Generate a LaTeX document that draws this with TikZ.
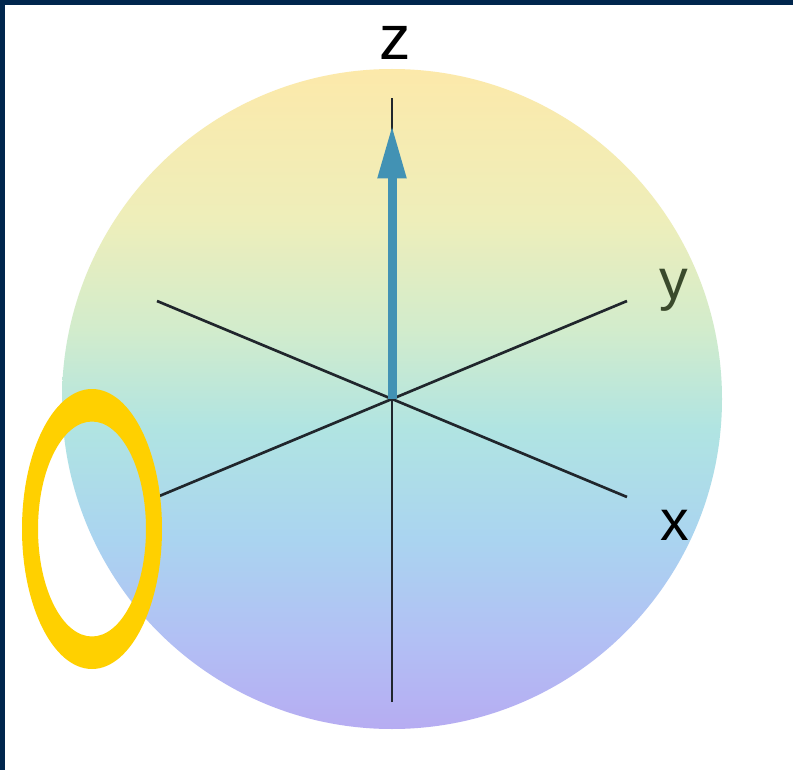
\documentclass[tikz,border=0pt]{standalone}
\usepackage{fontspec}
\setmainfont{Liberation Sans}
\usetikzlibrary{arrows.meta}
\definecolor{cnavy}{RGB}{0,38,77}
\definecolor{cjaune}{RGB}{255,208,0}
\definecolor{cfleche}{RGB}{66,146,180}
\definecolor{caxe}{RGB}{32,38,44}
\definecolor{cvert}{RGB}{58,74,44}
\definecolor{sph1}{RGB}{182,172,242}
\definecolor{sph2}{RGB}{178,192,244}
\definecolor{sph3}{RGB}{170,212,240}
\definecolor{sph4}{RGB}{176,228,226}
\definecolor{sph5}{RGB}{210,236,204}
\definecolor{sph6}{RGB}{238,238,186}
\definecolor{sph7}{RGB}{252,233,170}
\pgfdeclareverticalshading{sphere}{100bp}{color(0bp)=(sph1); color(25bp)=(sph1);
  color(31.8bp)=(sph2); color(39.4bp)=(sph3); color(47.7bp)=(sph4);
  color(55.3bp)=(sph5); color(63.6bp)=(sph6); color(75bp)=(sph7); color(100bp)=(sph7)}

\begin{document}
\begin{tikzpicture}[x=0.75pt, y=-0.75pt, >=Stealth,
  lettre/.style={inner sep=0pt, anchor=base, font=\fontsize{43}{46}\selectfont}]
\useasboundingbox (0,0) rectangle (793,770);
\fill[white] (0,0) rectangle (793,770);
\fill[cnavy] (0,0) rectangle (793,5);
\fill[cnavy] (0,0) rectangle (5,770);
% sphere and axes
\coordinate (o) at (392,399);
\shade[shading=sphere] (o) circle [radius=330];
\coordinate (zhaut) at (392,98);
\coordinate (zbas) at (392,702);
\coordinate (xa) at (157,301);
\coordinate (xb) at (627,497);
\coordinate (ya) at (157,497);
\coordinate (yb) at (627,301);
\draw[caxe, line width=2pt] (zbas) -- (zhaut);
\draw[caxe, line width=2pt] (xa) -- (xb);
\draw[caxe, line width=2pt] (ya) -- (yb);
% state vector
\coordinate (ztip) at (392,125);
\draw[cfleche, line width=6.75pt, -{Triangle[length=40pt,width=20pt]}] (o) -- (ztip);
\node[lettre, font=\fontsize{47}{50}\selectfont] (lz) at (395,60) {z};
\node[lettre, text=cvert] (ly) at (674,300) {y};
\node[lettre] (lx) at (675,540) {x};
% highlight ring
\coordinate (anneau) at (92,529);
\fill[cjaune, even odd rule] (anneau) ellipse [x radius=70, y radius=140]
  (anneau) ellipse [x radius=54, y radius=107.5];
\end{tikzpicture}
\end{document}
